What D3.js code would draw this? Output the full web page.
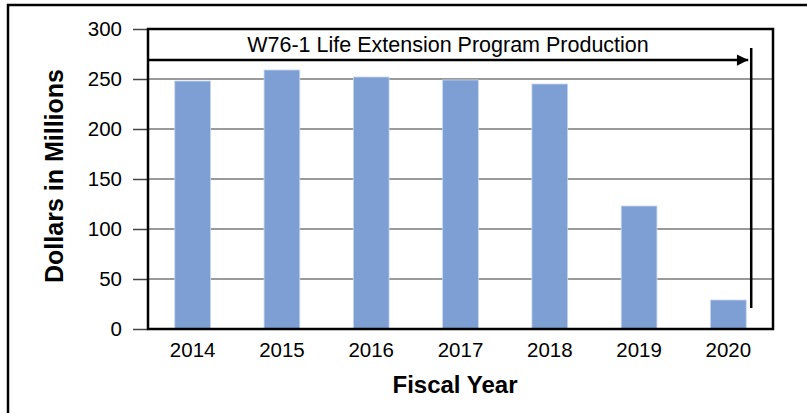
<!DOCTYPE html>
<html>
<head>
<meta charset="utf-8">
<script src="https://cdn.jsdelivr.net/npm/d3@7"></script>
<style>
  body { margin: 0; background: #fff; }
  text { font-family: "Liberation Sans", Arial, sans-serif; fill: #000; }
</style>
</head>
<body>
<svg id="chart" width="807" height="413"></svg>
<script>
// data
var years = ["2014", "2015", "2016", "2017", "2018", "2019", "2020"];
var dollars = [248, 259, 252, 249, 245, 123, 29];
var yTicks = [0, 50, 100, 150, 200, 250, 300];
var bannerText = "W76-1 Life Extension Program Production";

var margin = {top: 29, right: 34, bottom: 84, left: 148};
var W = 807, H = 413;
var width = W - margin.left - margin.right;
var height = H - margin.top - margin.bottom;

var svg = d3.select("#chart");

// outer frame (right/bottom edges run off the picture)
svg.append("rect")
    .attr("x", 8).attr("y", 5)
    .attr("width", 820).attr("height", 430)
    .attr("fill", "none")
    .attr("stroke", "#000")
    .attr("stroke-width", 2.5);

var g = svg.append("g")
    .attr("transform", "translate(" + margin.left + "," + margin.top + ")");

var x = d3.scaleBand()
    .domain(years)
    .range([0, width])
    .paddingInner(0.6)
    .paddingOuter(0.3);

var y = d3.scaleLinear()
    .domain([0, 300])
    .range([height, 0]);

// grid
g.selectAll(".grid")
    .data(yTicks.filter(function(d) { return d > 0 && d < 300; }))
    .enter().append("line")
    .attr("class", "grid")
    .attr("x1", 0).attr("x2", width)
    .attr("y1", function(d) { return y(d); })
    .attr("y2", function(d) { return y(d); })
    .attr("stroke", "#9a9a9a")
    .attr("stroke-width", 2);

// bars
g.selectAll(".bar")
    .data(dollars)
    .enter().append("rect")
    .attr("class", "bar")
    .attr("x", function(d, i) { return x(years[i]); })
    .attr("y", function(d) { return y(d); })
    .attr("width", x.bandwidth())
    .attr("height", function(d) { return height - y(d); })
    .attr("fill", "#7d9fd4")
    .attr("stroke", "#c6d5ee")
    .attr("stroke-width", 0.8);

// y axis ticks + labels
var yAxis = d3.axisLeft(y)
    .tickValues(yTicks)
    .tickSize(15)
    .tickPadding(11);
var ya = g.append("g").call(yAxis);
ya.select(".domain").remove();
ya.selectAll("line").attr("stroke", "#444").attr("stroke-width", 1.5);
ya.selectAll("text")
    .attr("font-size", 20.5)
    .attr("font-family", "Liberation Sans, Arial, sans-serif")
    .attr("fill", "#000");

// x axis labels
var xAxis = d3.axisBottom(x).tickSize(0).tickPadding(13);
var xa = g.append("g")
    .attr("transform", "translate(0," + height + ")")
    .call(xAxis);
xa.select(".domain").remove();
xa.selectAll("text")
    .attr("font-size", 20.5)
    .attr("font-family", "Liberation Sans, Arial, sans-serif")
    .attr("fill", "#000");

// plot box
g.append("rect")
    .attr("x", 0).attr("y", 0)
    .attr("width", width).attr("height", height)
    .attr("fill", "none")
    .attr("stroke", "#000")
    .attr("stroke-width", 2.5);

// banner arrow
var last = years[years.length - 1];
var arrowEnd = x(last) + x.bandwidth() + 2;
var arrowY = 31;
svg.append("defs").append("marker")
    .attr("id", "head")
    .attr("viewBox", "0 0 10 10")
    .attr("refX", 10).attr("refY", 5)
    .attr("markerWidth", 8).attr("markerHeight", 4.5)
    .attr("markerUnits", "strokeWidth")
    .attr("orient", "auto")
    .append("path")
    .attr("d", "M0,0L10,5L0,10z")
    .attr("fill", "#000");

g.append("line")
    .attr("x1", 0).attr("x2", arrowEnd)
    .attr("y1", arrowY).attr("y2", arrowY)
    .attr("stroke", "#000")
    .attr("stroke-width", 2.5)
    .attr("marker-end", "url(#head)");

g.append("line")
    .attr("x1", arrowEnd + 3).attr("x2", arrowEnd + 3)
    .attr("y1", 19).attr("y2", y(0) - 21)
    .attr("stroke", "#000")
    .attr("stroke-width", 2.5);

g.append("text")
    .attr("x", 300)
    .attr("y", 23)
    .attr("text-anchor", "middle")
    .attr("font-size", 21.5)
    .text(bannerText);

// axis titles
svg.append("text")
    .attr("transform", "translate(63," + (margin.top + height / 2 - 3) + ") rotate(-90)")
    .attr("text-anchor", "middle")
    .attr("font-size", 25)
    .attr("font-weight", "bold")
    .text("Dollars in Millions");

svg.append("text")
    .attr("x", 455)
    .attr("y", 393)
    .attr("text-anchor", "middle")
    .attr("font-size", 24)
    .attr("font-weight", "bold")
    .text("Fiscal Year");
</script>
</body>
</html>
